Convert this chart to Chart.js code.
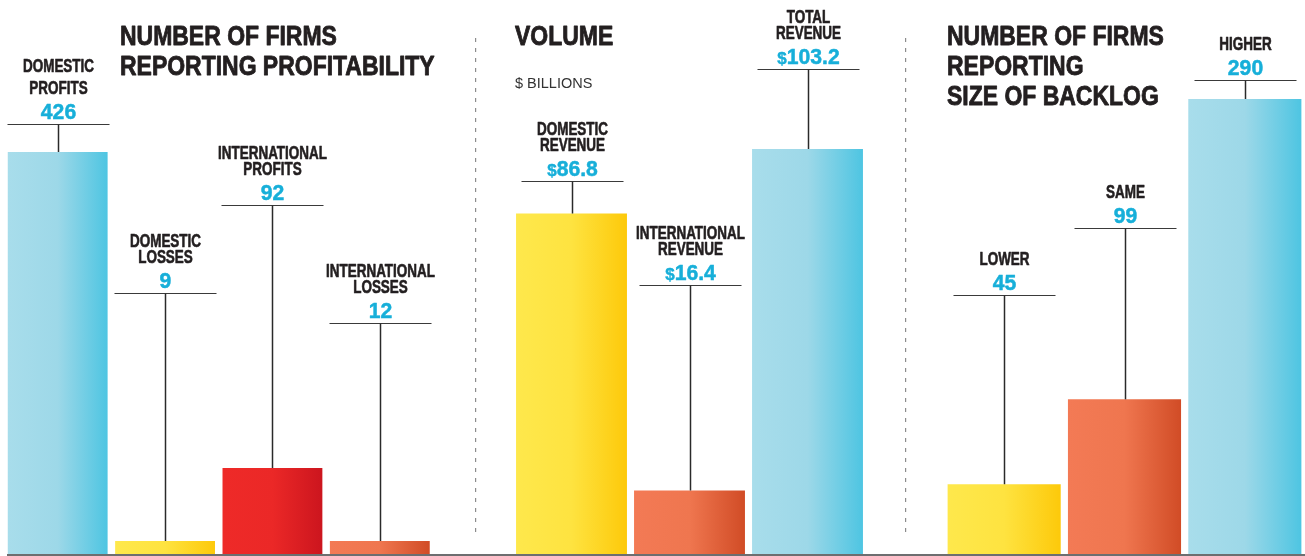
<!DOCTYPE html>
<html>
<head>
<meta charset="utf-8">
<script src="https://cdn.jsdelivr.net/npm/chart.js@4/dist/chart.umd.min.js"></script>
<style>
  html, body { margin: 0; padding: 0; background: #ffffff; }
  #wrap { position: relative; width: 1305px; height: 556px; overflow: hidden; background: #fff; }
  canvas { position: absolute; top: 0; }
</style>
</head>
<body>
<div id="wrap">
  <canvas id="c1" width="475" height="556" style="left:0px"></canvas>
  <canvas id="c2" width="430" height="556" style="left:475px"></canvas>
  <canvas id="c3" width="400" height="556" style="left:905px"></canvas>
</div>
<script>
// ---------------- DATA ----------------
const profitCategories = [["DOMESTIC", "PROFITS"], ["DOMESTIC", "LOSSES"], ["INTERNATIONAL", "PROFITS"], ["INTERNATIONAL", "LOSSES"]];
const profitValues = [426, 9, 92, 12];

const volumeCategories = [["DOMESTIC", "REVENUE"], ["INTERNATIONAL", "REVENUE"], ["TOTAL", "REVENUE"]];
const volumeValues = [86.8, 16.4, 103.2];

const backlogCategories = [["LOWER"], ["SAME"], ["HIGHER"]];
const backlogValues = [45, 99, 290];

const profitTitle = ["NUMBER OF FIRMS", "REPORTING PROFITABILITY"];
const volumeTitle = ["VOLUME"];
const volumeUnit = "$ BILLIONS";
const backlogTitle = ["NUMBER OF FIRMS", "REPORTING", "SIZE OF BACKLOG"];

// ---------------- STYLE ----------------
const BLUE = ['#a8ddeb', '#9dd8e8', '#4ec5e2'];
const YELLOW = ['#fee84c', '#fee340', '#fdc90a'];
const RED = ['#ee2a28', '#eb2827', '#cc151e'];
const ORANGE = ['#f37a55', '#ef764f', '#d14c26'];
const TEXT = '#231f20';
const VALUE = '#17afd9';
const FONT = '"Liberation Sans", Arial, Helvetica, sans-serif';

function gradientFill(palette, barPct) {
  return function (ctx) {
    const chart = ctx.chart;
    const pal = palette[ctx.dataIndex % palette.length];
    if (!chart.chartArea || ctx.type !== 'data') return pal[2];
    const xs = chart.scales.x;
    const cx = xs.getPixelForValue(ctx.dataIndex);
    const w = (xs.width / chart.data.labels.length) * barPct;
    const g = chart.ctx.createLinearGradient(cx - w / 2, 0, cx + w / 2, 0);
    g.addColorStop(0, pal[0]);
    g.addColorStop(0.5, pal[1]);
    g.addColorStop(1, pal[2]);
    return g;
  };
}

function drawScaled(ctx, text, x, y, font, color, sx, align, stroke) {
  ctx.save();
  ctx.font = font;
  ctx.fillStyle = color;
  ctx.textBaseline = 'alphabetic';
  ctx.textAlign = align || 'left';
  ctx.translate(x, y);
  ctx.scale(sx, 1);
  ctx.fillText(text, 0, 0);
  if (stroke) {
    ctx.strokeStyle = color;
    ctx.lineWidth = stroke;
    ctx.lineJoin = 'round';
    ctx.strokeText(text, 0, 0);
  }
  ctx.restore();
}

function makeChart(id, cfg) {
  const labelFont = 'bold 17.5px ' + FONT;
  const numFont = 'bold 22.5px ' + FONT;
  const dollarFont = 'bold 17px ' + FONT;
  const titleFont = 'bold 28px ' + FONT;

  const overlay = {
    id: 'overlay_' + id,
    afterDatasetsDraw(chart) {
      const ctx = chart.ctx;
      const meta = chart.getDatasetMeta(0);
      // baseline
      ctx.save();
      ctx.strokeStyle = '#6d6e70';
      ctx.lineWidth = 2;
      ctx.beginPath();
      ctx.moveTo(cfg.baseStart, 555);
      ctx.lineTo(chart.width, 555);
      ctx.stroke();
      ctx.restore();

      // separator
      if (cfg.separator) {
        ctx.save();
        ctx.strokeStyle = '#8c8c8c';
        ctx.lineWidth = 1.2;
        ctx.setLineDash([4, 6]);
        ctx.beginPath();
        ctx.moveTo(0.6, 38);
        ctx.lineTo(0.6, 534);
        ctx.stroke();
        ctx.restore();
      }

      // titles
      cfg.title.forEach((t, i) => {
        drawScaled(ctx, t, cfg.titleX, 45 + i * 30, titleFont, TEXT, 0.82, 'left', 0.9);
      });
      if (cfg.unit) {
        drawScaled(ctx, cfg.unit, cfg.titleX, 88, '14.5px ' + FONT, '#333333', 1, 'left');
      }

      // callouts
      meta.data.forEach((bar, i) => {
        const cx = Math.round(bar.x) + 0.5;
        const L = cfg.callout[i] + 0.5;
        ctx.save();
        ctx.strokeStyle = '#3a3a3a';
        ctx.lineWidth = 1.2;
        ctx.beginPath();
        ctx.moveTo(cx - 51, L);
        ctx.lineTo(cx + 51, L);
        ctx.stroke();
        ctx.lineWidth = 1.5;
        ctx.strokeStyle = '#2a2a2a';
        ctx.beginPath();
        ctx.moveTo(cx, L);
        ctx.lineTo(cx, bar.y);
        ctx.stroke();
        ctx.restore();

        // value
        const v = String(cfg.values[i]);
        ctx.save();
        ctx.font = numFont;
        const nw = ctx.measureText(v).width * 0.94;
        ctx.font = dollarFont;
        const dw = cfg.prefix ? ctx.measureText(cfg.prefix).width : 0;
        ctx.restore();
        const start = cx - (nw + dw) / 2;
        if (cfg.prefix) drawScaled(ctx, cfg.prefix, start, L - 6, dollarFont, VALUE, 1, 'left', 0.4);
        drawScaled(ctx, v, start + dw, L - 6, numFont, VALUE, 0.94, 'left', 0.5);

        // label lines
        const lines = cfg.labels[i];
        const gap = (cfg.lineGap && cfg.lineGap[i]) || 16;
        for (let k = lines.length - 1, j = 0; k >= 0; k--, j++) {
          drawScaled(ctx, lines[k], cx, L - 31 - j * gap, labelFont, TEXT, 0.77, 'center', 0.6);
        }
      });
    }
  };

  return new Chart(document.getElementById(id), {
    type: 'bar',
    data: {
      labels: cfg.labels.map(l => l.join(' ')),
      datasets: [{
        data: cfg.values,
        backgroundColor: gradientFill(cfg.palette, cfg.barPct),
        borderWidth: 0,
        barPercentage: cfg.barPct,
        categoryPercentage: 1,
        minBarLength: cfg.minBar || 0
      }]
    },
    options: {
      responsive: false,
      devicePixelRatio: 1,
      animation: false,
      layout: { padding: cfg.padding },
      plugins: { legend: { display: false }, tooltip: { enabled: false }, title: { display: false } },
      scales: {
        x: { display: false },
        y: { display: false, min: 0, max: Math.max(...cfg.values) }
      }
    },
    plugins: [overlay]
  });
}

makeChart('c1', {
  labels: profitCategories,
  values: profitValues,
  palette: [BLUE, YELLOW, RED, ORANGE],
  barPct: 0.93,
  minBar: 14,
  padding: { left: 4, right: 41.5, top: 152, bottom: 1 },
  callout: [124, 293, 205, 323],
  lineGap: [22, 16, 16, 16],
  title: profitTitle,
  titleX: 120,
  baseStart: 7,
  separator: false
});

makeChart('c2', {
  labels: volumeCategories,
  values: volumeValues,
  palette: [YELLOW, ORANGE, BLUE],
  barPct: 0.94,
  padding: { left: 37.5, right: 38.5, top: 149, bottom: 1 },
  callout: [181, 285, 69],
  prefix: '$',
  title: volumeTitle,
  unit: volumeUnit,
  titleX: 40,
  baseStart: 0,
  separator: true
});

makeChart('c3', {
  labels: backlogCategories,
  values: backlogValues,
  palette: [YELLOW, ORANGE, BLUE],
  barPct: 0.94,
  padding: { left: 39, right: 0, top: 99, bottom: 1 },
  callout: [295, 228, 80],
  title: backlogTitle,
  titleX: 42,
  baseStart: 0,
  separator: true
});
</script>
</body>
</html>
